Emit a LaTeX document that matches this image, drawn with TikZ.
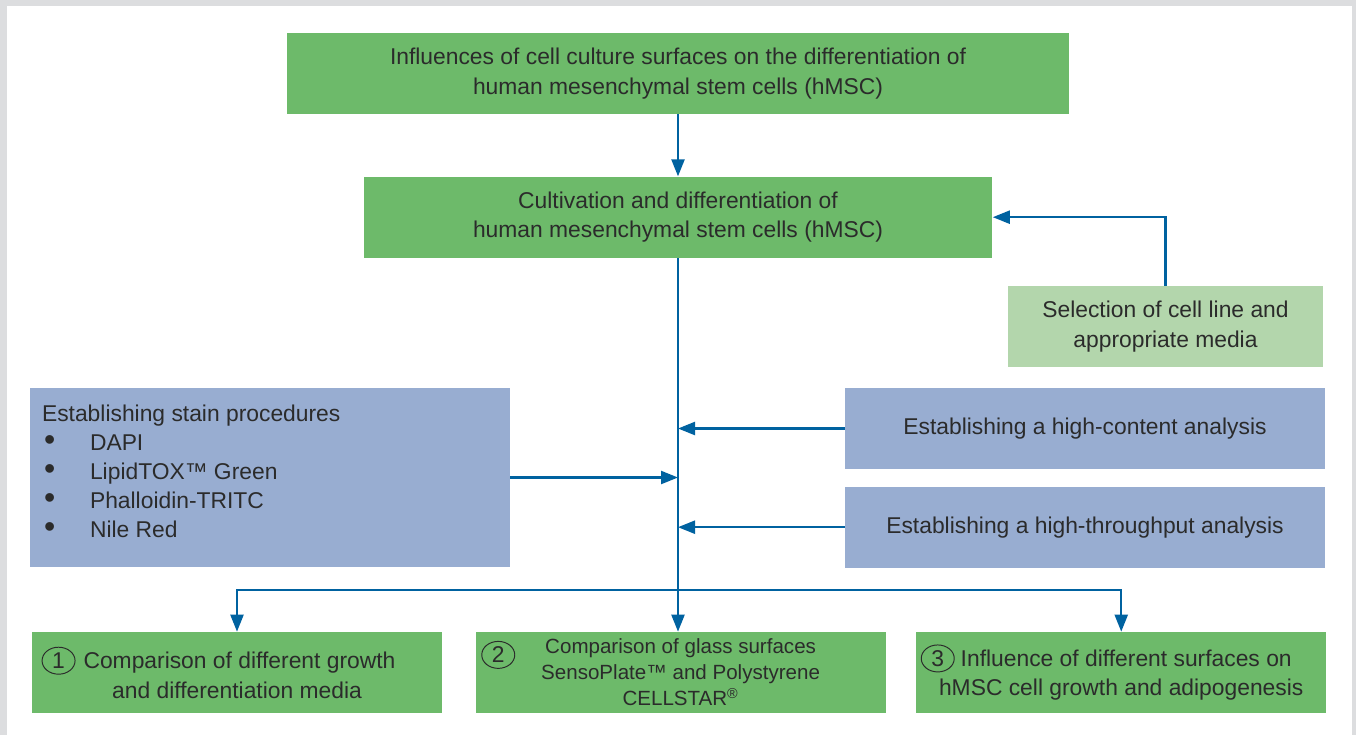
\documentclass[tikz,border=0pt]{standalone}
\usepackage{fontspec}
\setmainfont{Liberation Sans}
\usetikzlibrary{positioning,arrows.meta,calc,shapes.geometric}
\definecolor{boxgreen}{HTML}{6DBA6A}
\definecolor{palegreen}{HTML}{B3D6AC}
\definecolor{boxblue}{HTML}{98ADD1}
\definecolor{linkblue}{HTML}{0062A0}
\definecolor{framegray}{HTML}{DCDDDF}
\definecolor{txt}{HTML}{2B2B2B}
\newcommand{\circnum}[1]{\tikz[baseline=(c.base)]\node[ellipse, draw=txt, line width=0.55pt,
    inner sep=0pt, minimum width=0.66cm, minimum height=0.54cm, text=txt,
    font=\fontsize{13}{13}\selectfont] (c) {#1};}
\newcommand{\stainitem}{\hspace{0.04cm}\makebox[0.92cm][l]{\scalebox{1.4}{\textbullet}}}
\tikzset{
     box/.style={rectangle, text=txt, align=center, inner sep=0pt,
                 minimum height=1.62cm, font=\fontsize{13}{16.8}\selectfont},
     greenbox/.style={box, fill=boxgreen},
     palebox/.style={box, fill=palegreen},
     bluebox/.style={box, fill=boxblue},
     arrow/.style={draw=linkblue, line width=1.3pt,
                   -{Triangle[length=0.34cm,width=0.26cm]}}
     }

\begin{document}
\begin{tikzpicture}[x=0.02cm, y=-0.02cm]
    % frame
    \fill[framegray] (0,0) rectangle (1356,735);
    \fill[white] (7,6) rectangle (1352,735);

    \node [greenbox, minimum width=15.64cm] (aim) at (678,73.5)
        {Influences of cell culture surfaces on the differentiation of\\human mesenchymal stem cells (hMSC)};
    \node [greenbox, minimum width=12.58cm, below=1.24cm of aim] (cult)
        {Cultivation and differentiation of\\human mesenchymal stem cells (hMSC)};
    \node [palebox, minimum width=6.3cm] (sel) at (1165.5,326.5)
        {Selection of cell line and\\appropriate media};
    \node [bluebox, minimum width=9.6cm, minimum height=3.58cm] (stain) at (270,477.5) {};
    \node [anchor=north west, align=left, inner sep=0pt, text=txt,
           font=\fontsize{13}{16.5}\selectfont] (stainlist)
        at ([xshift=0.24cm, yshift=-0.34cm]stain.north west)
        {Establishing stain procedures\\
         \stainitem DAPI\\
         \stainitem LipidTOX™ Green\\
         \stainitem Phalloidin-TRITC\\
         \stainitem Nile Red};
    \node [bluebox, minimum width=9.6cm] (hca) at (1085,428.5)
        {Establishing a high-content analysis};
    \node [bluebox, minimum width=9.6cm, below=0.34cm of hca] (hts)
        {Establishing a high-throughput analysis};

    \node [greenbox, minimum width=8.2cm] (cmp1) at (237,672.5)
        {\circnum{1}\hspace{0.16cm}Comparison of different growth\hspace*{0.74cm}\\and differentiation media};
    \node [greenbox, minimum width=8.2cm, right=0.66cm of cmp1, font=\fontsize{11.7}{14.8}\selectfont] (cmp2)
        {\llap{\raisebox{-0.18cm}[0pt][0pt]{\circnum{2}}\hspace{0.6cm}}Comparison of glass surfaces\\SensoPlate™ and Polystyrene\\CELLSTAR\textsuperscript{®}};
    \node [greenbox, minimum width=8.2cm, right=0.6cm of cmp2] (cmp3)
        {\circnum{3}\hspace{0.12cm}Influence of different surfaces on\hspace*{0.6cm}\\hMSC cell growth and adipogenesis};

    \coordinate (fork) at (cult.south |- 0,590);

    \draw [arrow] (aim.south) -- (aim.south |- cult.north);
    \draw [arrow] (sel.north) |- (cult.east);
    \draw [arrow] (cult.south) -- (cult.south |- cmp2.north);
    \draw [arrow] (hca.west) -- (hca.west -| cult.south);
    \draw [arrow] (hts.west) -- (hts.west -| cult.south);
    \draw [arrow] (stain.east) -- (stain.east -| cult.south);
    \draw [arrow] (fork) -| (cmp1.north);
    \draw [arrow] (fork) -| (cmp3.north);
\end{tikzpicture}
\end{document}
